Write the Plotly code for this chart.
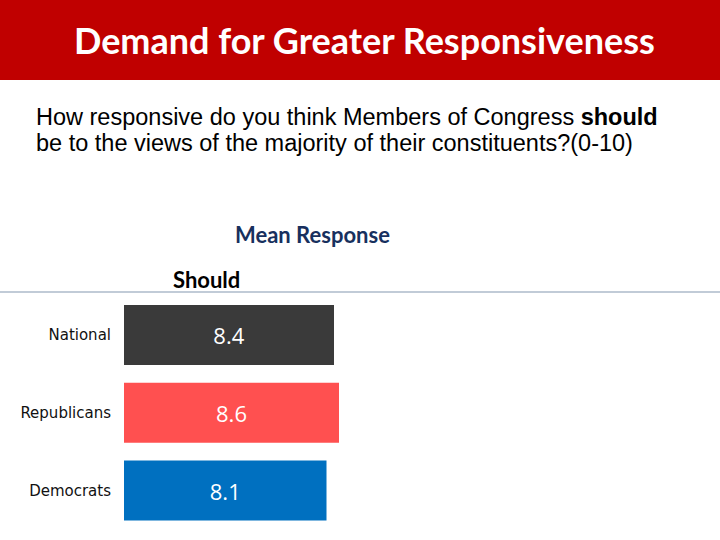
import plotly.graph_objects as go

# ---- data ----
categories = ["National", "Republicans", "Democrats"]
values = [8.4, 8.6, 8.1]
value_labels = ["8.4", "8.6", "8.1"]
bar_colors = ["#3A3A3A", "#FF5050", "#0070C0"]

title_text = "Demand for Greater Responsiveness"
question_line1 = "How responsive do you think Members of Congress <b>should</b>"
question_line2 = "be to the views of the majority of their constituents?(0-10)"
subtitle_text = "Mean Response"
column_text = "Should"

W, H = 720, 540

def px(x):
    return x / W

def py(y):
    return 1 - y / H

positions = list(range(len(categories)))

fig = go.Figure()
fig.add_trace(go.Bar(
    x=values,
    y=positions,
    orientation="h",
    marker=dict(color=bar_colors, line=dict(width=0)),
    width=0.77,
    text=value_labels,
    textposition="inside",
    insidetextanchor="middle",
    textfont=dict(family="Open Sans", size=22, color="white"),
    hoverinfo="skip",
))

x_left = 124
px_per_unit = 25.0
y_top_px, y_bot_px = 296, 540
c0, c2 = 335.0, 490.5
ppu_y = (c2 - c0) / 2
y_lo = -(c0 - y_top_px) / ppu_y
y_hi = 2 + (y_bot_px - c2) / ppu_y

fig.update_layout(
    width=W, height=H,
    margin=dict(l=0, r=0, t=0, b=0),
    paper_bgcolor="white",
    plot_bgcolor="white",
    showlegend=False,
    xaxis=dict(
        domain=[px(x_left), 1],
        range=[0, (W - x_left) / px_per_unit],
        visible=False,
        fixedrange=True,
    ),
    yaxis=dict(
        domain=[0, (H - y_top_px) / H],
        range=[y_hi, y_lo],
        tickvals=positions,
        ticktext=categories,
        showgrid=False,
        zeroline=False,
        showline=False,
        ticks="",
        ticklabelstandoff=12,
        tickfont=dict(family="DejaVu Sans", size=15, color="#111111"),
        fixedrange=True,
    ),
    shapes=[
        dict(type="rect", xref="paper", yref="paper",
             x0=0, x1=1, y0=py(80), y1=1,
             fillcolor="#C00000", line=dict(width=0), layer="below"),
        dict(type="line", xref="paper", yref="paper",
             x0=0, x1=1, y0=py(292), y1=py(292),
             line=dict(color="#8497B0", width=1.2)),
    ],
    annotations=[
        dict(text=f"<b>{title_text}</b>", xref="paper", yref="paper",
             x=px(364), y=py(40), xanchor="center", yanchor="middle",
             showarrow=False,
             font=dict(family="Lato", size=36, color="white")),
        dict(text=question_line1, xref="paper", yref="paper",
             x=px(34), y=py(117), xanchor="left", yanchor="middle",
             align="left", showarrow=False,
             font=dict(family="Liberation Sans", size=23.5, color="black")),
        dict(text=question_line2, xref="paper", yref="paper",
             x=px(34), y=py(143), xanchor="left", yanchor="middle",
             align="left", showarrow=False,
             font=dict(family="Liberation Sans", size=23.5, color="black")),
        dict(text=f"<b>{subtitle_text}</b>", xref="paper", yref="paper",
             x=px(312), y=py(235), xanchor="center", yanchor="middle",
             showarrow=False,
             font=dict(family="Lato", size=22, color="#17305E")),
        dict(text=f"<b>{column_text}</b>", xref="paper", yref="paper",
             x=px(206), y=py(279), xanchor="center", yanchor="middle",
             showarrow=False,
             font=dict(family="Lato", size=22, color="black")),
    ],
)

fig.write_html("out.html", config={"displayModeBar": False},
               post_script="document.body.style.margin='0';")
